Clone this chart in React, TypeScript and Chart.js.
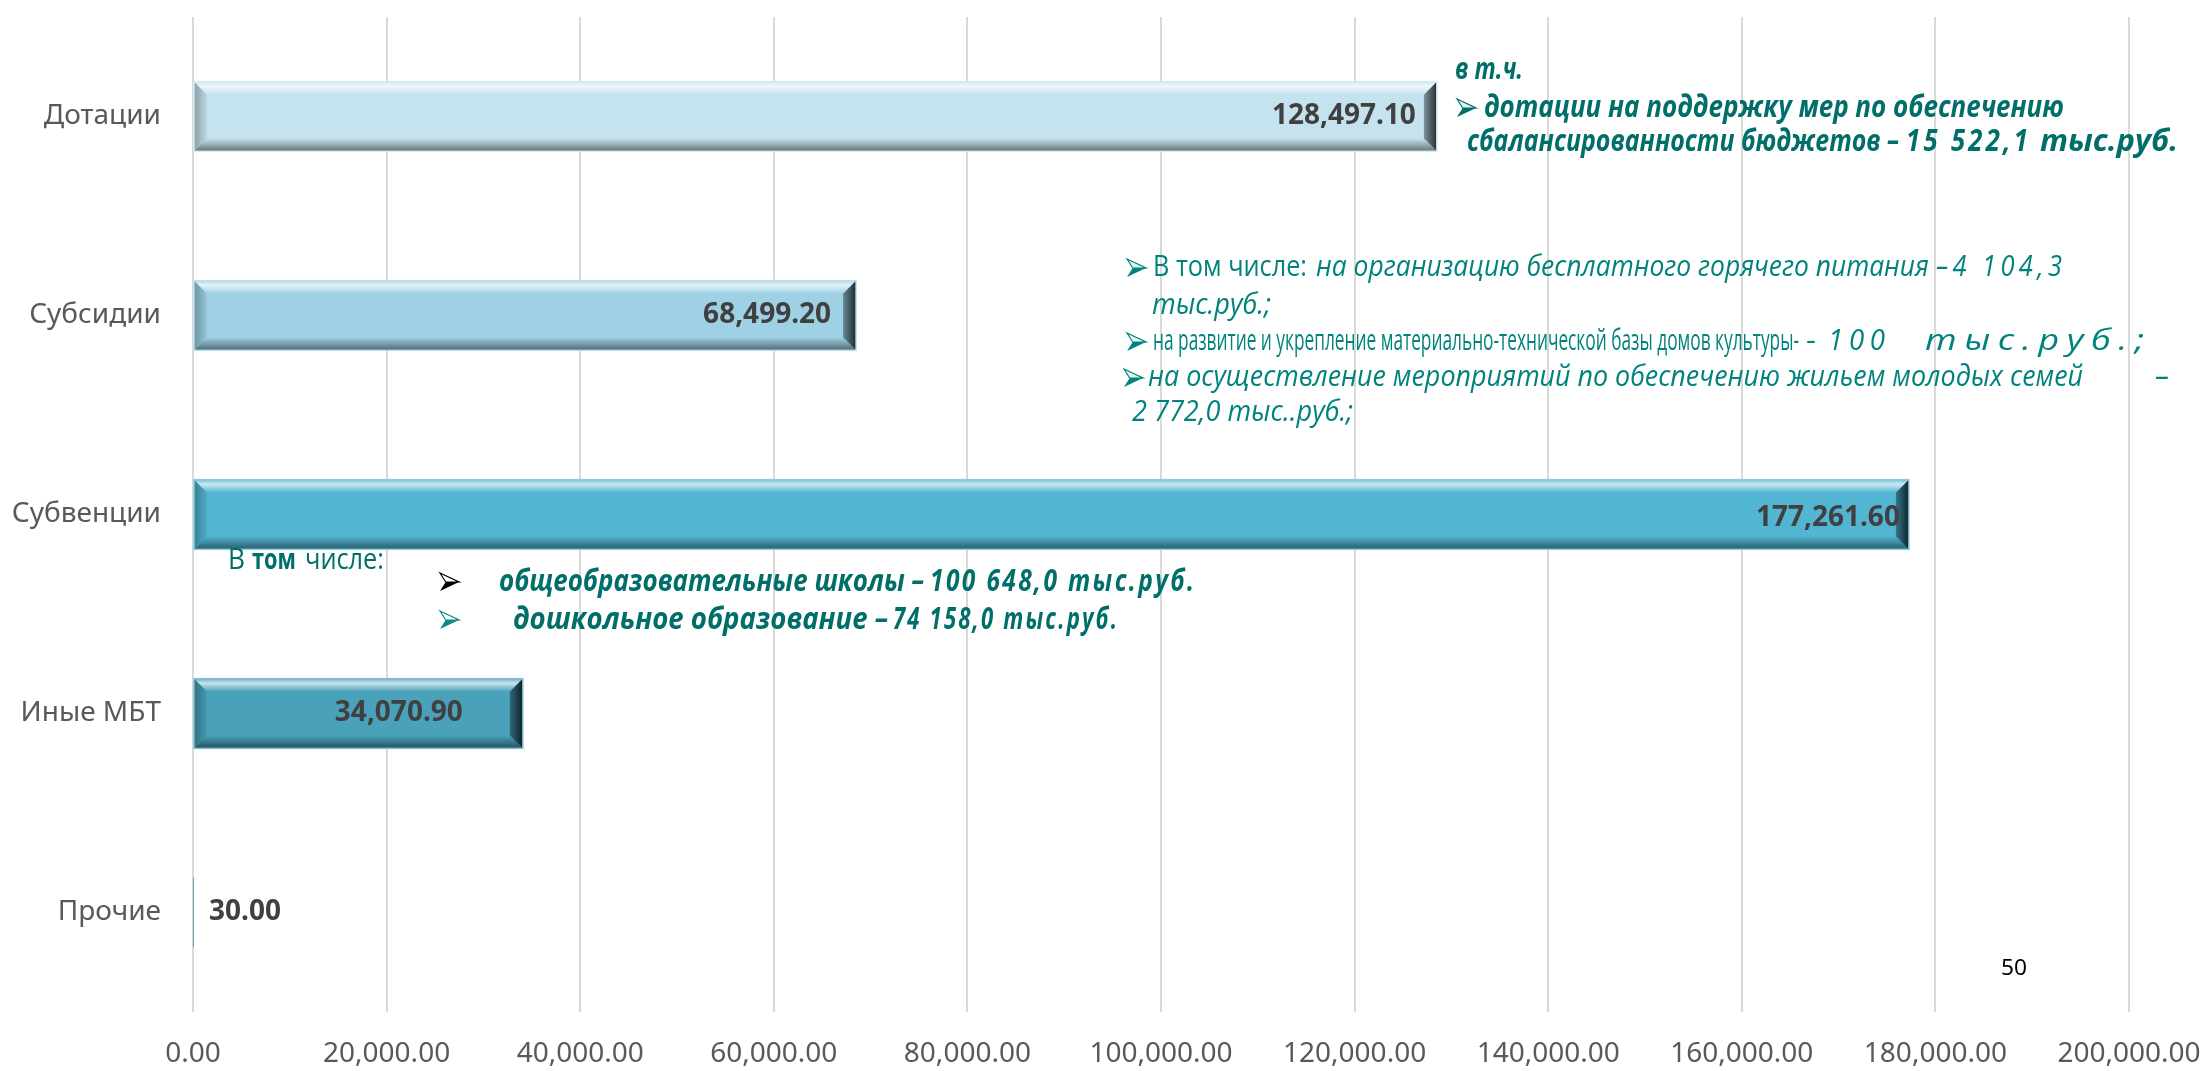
import React, { useEffect, useRef } from "react";
import { Chart, registerables } from "chart.js";

Chart.register(...registerables);

const categories = ["Дотации", "Субсидии", "Субвенции", "Иные МБТ", "Прочие"];
const values = [128497.1, 68499.2, 177261.6, 34070.9, 30.0];
const xMin = 0;
const xMax = 200000;
const xStep = 20000;

const barColors = ["#C5E3EE", "#9DD1E3", "#52B5D1", "#4AA2BA", "#3F91A8"];
const labelAlign = ["end", "end", "end", "end", "start"];
const labelOffset = [21, 25, 9, 60, 15];
const labelDy = [0, 0, 4, 0, 0];

const fmt = (v: number) =>
  v.toLocaleString("en-US", { minimumFractionDigits: 2, maximumFractionDigits: 2 });

function shade(hex: string, amt: number) {
  const n = parseInt(hex.slice(1), 16);
  let r = (n >> 16) & 255,
    g = (n >> 8) & 255,
    b = n & 255;
  if (amt >= 0) {
    r += (255 - r) * amt;
    g += (255 - g) * amt;
    b += (255 - b) * amt;
  } else {
    r *= 1 + amt;
    g *= 1 + amt;
    b *= 1 + amt;
  }
  return `rgb(${Math.round(r)},${Math.round(g)},${Math.round(b)})`;
}

function poly(ctx: CanvasRenderingContext2D, pts: number[][], fill: any) {
  ctx.beginPath();
  ctx.moveTo(pts[0][0], pts[0][1]);
  for (let i = 1; i < pts.length; i++) ctx.lineTo(pts[i][0], pts[i][1]);
  ctx.closePath();
  ctx.fillStyle = fill;
  ctx.fill();
}

const bevelPlugin = {
  id: "bevelBars",
  afterDatasetsDraw(chart: any) {
    const ctx: CanvasRenderingContext2D = chart.ctx;
    const meta = chart.getDatasetMeta(0);
    meta.data.forEach((bar: any, i: number) => {
      const { x, y, base, height } = bar.getProps(["x", "y", "base", "height"], true);
      const left = Math.min(base, x);
      const right = Math.max(base, x);
      const top = y - height / 2;
      const bottom = y + height / 2;
      const w = right - left;
      const c = barColors[i];
      if (w > 6) {
        const bv = Math.min(13, w / 2);
        ctx.save();
        // top bevel
        let g = ctx.createLinearGradient(0, top, 0, top + bv);
        g.addColorStop(0, shade(c, 0.2));
        g.addColorStop(0.35, shade(c, 0.7));
        g.addColorStop(1, c);
        poly(ctx, [[left, top], [right, top], [right - bv, top + bv], [left + bv, top + bv]], g);
        // bottom bevel
        g = ctx.createLinearGradient(0, bottom - bv, 0, bottom);
        g.addColorStop(0, c);
        g.addColorStop(1, shade(c, -0.5));
        poly(ctx, [[left, bottom], [right, bottom], [right - bv, bottom - bv], [left + bv, bottom - bv]], g);
        // left bevel
        g = ctx.createLinearGradient(left, 0, left + bv, 0);
        g.addColorStop(0, shade(c, -0.3));
        g.addColorStop(1, shade(c, -0.05));
        poly(ctx, [[left, top], [left + bv, top + bv], [left + bv, bottom - bv], [left, bottom]], g);
        // right bevel
        g = ctx.createLinearGradient(right - bv, 0, right, 0);
        g.addColorStop(0, shade(c, -0.35));
        g.addColorStop(1, shade(c, -0.8));
        poly(ctx, [[right, top], [right - bv, top + bv], [right - bv, bottom - bv], [right, bottom]], g);
        // outline
        ctx.strokeStyle = shade(c, 0.3);
        ctx.lineWidth = 1.5;
        ctx.strokeRect(left, top, w, height);
        ctx.restore();
      }
    });
    // data labels
    ctx.save();
    ctx.font = "bold 28px 'Noto Sans'";
    ctx.fillStyle = "#404040";
    ctx.textBaseline = "middle";
    meta.data.forEach((bar: any, i: number) => {
      const { x, y, base } = bar.getProps(["x", "y", "base"], true);
      const txt = fmt(values[i]);
      if (labelAlign[i] === "end") {
        ctx.textAlign = "right";
        ctx.fillText(txt, x - labelOffset[i], y + labelDy[i]);
      } else {
        ctx.textAlign = "left";
        ctx.fillText(txt, base + labelOffset[i], y + labelDy[i]);
      }
    });
    ctx.restore();
  },
};

type Run = { t: string; x: number; w?: number; font: string; color: string; ls?: number };

function drawRun(ctx: CanvasRenderingContext2D, r: Run, y: number) {
  ctx.save();
  ctx.font = r.font;
  ctx.fillStyle = r.color;
  ctx.textBaseline = "middle";
  ctx.textAlign = "left";
  (ctx as any).letterSpacing = (r.ls || 0) + "px";
  const m = ctx.measureText(r.t).width - (r.ls || 0);
  const s = r.w ? r.w / m : 1;
  ctx.translate(r.x, y);
  ctx.scale(s, 1);
  ctx.fillText(r.t, 0, 0);
  ctx.restore();
}

function drawArrow(ctx: CanvasRenderingContext2D, x: number, y: number, color: string, lightTop: string) {
  const w = 19;
  const h = 18;
  ctx.save();
  ctx.lineJoin = "miter";
  ctx.beginPath();
  ctx.moveTo(x, y - h / 2);
  ctx.lineTo(x + w, y);
  ctx.lineTo(x + w * 0.3, y);
  ctx.closePath();
  ctx.fillStyle = lightTop;
  ctx.fill();
  ctx.strokeStyle = color;
  ctx.lineWidth = 1.2;
  ctx.stroke();
  ctx.beginPath();
  ctx.moveTo(x + w * 0.3, y);
  ctx.lineTo(x + w, y);
  ctx.lineTo(x, y + h / 2);
  ctx.closePath();
  ctx.fillStyle = color;
  ctx.fill();
  ctx.restore();
}

const TEAL_B = "#006E69";
const TEAL_L = "#00837D";
const BI = "italic bold 31px 'Open Sans'";
const IT = "italic 29px 'Open Sans'";
const RG = "29px 'Open Sans'";

const annotationPlugin = {
  id: "annotations",
  afterDraw(chart: any) {
    const ctx: CanvasRenderingContext2D = chart.ctx;
    // Дотации note
    drawRun(ctx, { t: "в т.ч.", x: 1455, w: 68, font: BI, color: TEAL_B }, 70);
    drawArrow(ctx, 1457, 108, TEAL_B, "#E6F4F3");
    drawRun(ctx, { t: "дотации на поддержку мер по обеспечению", x: 1484, w: 580, font: BI, color: TEAL_B }, 108);
    drawRun(ctx, { t: "сбалансированности бюджетов –", x: 1467, w: 432, font: BI, color: TEAL_B }, 142);
    drawRun(ctx, { t: "15 522,1", x: 1906, w: 122, font: BI, color: TEAL_B, ls: 4 }, 142);
    drawRun(ctx, { t: "тыс.руб.", x: 2040, w: 138, font: BI, color: TEAL_B }, 142);

    // Субсидии note
    drawArrow(ctx, 1127, 268, TEAL_L, "#E6F4F3");
    drawRun(ctx, { t: "В том числе:", x: 1153, w: 154, font: RG, color: TEAL_L }, 268);
    drawRun(ctx, { t: "на организацию бесплатного горячего питания", x: 1316, w: 613, font: IT, color: TEAL_L }, 268);
    drawRun(ctx, { t: "–4 104,3", x: 1936, w: 126, font: IT, color: TEAL_L, ls: 5 }, 268);
    drawRun(ctx, { t: "тыс.руб.;", x: 1152, w: 119, font: IT, color: TEAL_L }, 306);
    drawArrow(ctx, 1127, 342, TEAL_L, "#E6F4F3");
    drawRun(ctx, { t: "на развитие и укрепление материально-технической базы домов культуры-", x: 1153, w: 646, font: RG, color: TEAL_L }, 342);
    drawRun(ctx, { t: "-", x: 1806, w: 10, font: RG, color: TEAL_L }, 342);
    drawRun(ctx, { t: "100", x: 1828, w: 57, font: IT, color: TEAL_L, ls: 6 }, 342);
    drawRun(ctx, { t: "тыс.руб.;", x: 1925, w: 219, font: IT, color: TEAL_L, ls: 6 }, 342);
    drawArrow(ctx, 1124, 378, TEAL_L, "#E6F4F3");
    drawRun(ctx, { t: "на осуществление мероприятий по обеспечению жильем молодых семей", x: 1148, w: 935, font: IT, color: TEAL_L }, 378);
    drawRun(ctx, { t: "–", x: 2155, w: 14, font: IT, color: TEAL_L }, 378);
    drawRun(ctx, { t: "2 772,0 тыс..руб.;", x: 1132, w: 221, font: IT, color: TEAL_L }, 413);

    // Субвенции note
    drawRun(ctx, { t: "В", x: 228, w: 17, font: RG, color: TEAL_B }, 561);
    drawRun(ctx, { t: "том", x: 252, w: 44, font: "bold 29px 'Open Sans'", color: TEAL_B }, 561);
    drawRun(ctx, { t: "числе:", x: 305, w: 79, font: RG, color: TEAL_B }, 561);
    drawArrow(ctx, 440, 582, "#000000", "#FFFFFF");
    drawRun(ctx, { t: "общеобразовательные школы –", x: 499, w: 425, font: BI, color: TEAL_B }, 582);
    drawRun(ctx, { t: "100 648,0 тыс.руб.", x: 930, w: 264, font: BI, color: TEAL_B, ls: 3 }, 582);
    drawArrow(ctx, 440, 620, "#0E8A84", "#FFFFFF");
    drawRun(ctx, { t: "дошкольное образование –", x: 513, w: 375, font: BI, color: TEAL_B }, 620);
    drawRun(ctx, { t: "74 158,0 тыс.руб.", x: 893, w: 224, font: BI, color: TEAL_B, ls: 3 }, 620);

    // page number
    drawRun(ctx, { t: "50", x: 2001, w: 26, font: "22px 'Noto Sans'", color: "#000000" }, 969);
  },
};

const zeroPad = (scale: any) => {
  scale.paddingTop = 0;
  scale.paddingBottom = 0;
  scale.paddingLeft = 0;
  scale.paddingRight = 0;
};

export default function App() {
  const ref = useRef<HTMLCanvasElement>(null);
  useEffect(() => {
    document.body.style.margin = "0";
    const chart = new Chart(ref.current as HTMLCanvasElement, {
      type: "bar",
      data: {
        labels: categories,
        datasets: [
          {
            data: values,
            backgroundColor: barColors,
            borderWidth: 0,
            barPercentage: 0.35,
            categoryPercentage: 1,
          },
        ],
      },
      options: {
        indexAxis: "y",
        responsive: false,
        animation: false,
        devicePixelRatio: 1,
        layout: { padding: { left: 0, right: 80, top: 17, bottom: 0 } },
        plugins: { legend: { display: false }, tooltip: { enabled: false }, title: { display: false } },
        scales: {
          x: {
            type: "linear",
            min: xMin,
            max: xMax,
            ticks: {
              stepSize: xStep,
              callback: (v: any) => fmt(Number(v)),
              font: { family: "'Noto Sans'", size: 28 },
              color: "#595959",
              padding: 25,
              maxRotation: 0,
            },
            grid: { color: "#D9D9D9", lineWidth: 2, drawTicks: false },
            border: { display: false },
            afterFit: (scale: any) => {
              scale.height = 59;
              zeroPad(scale);
            },
          },
          y: {
            ticks: {
              font: { family: "'Noto Sans'", size: 28 },
              color: "#595959",
              padding: 32,
            },
            grid: { display: false, drawTicks: false },
            border: { display: false },
            afterFit: (scale: any) => {
              scale.width = 193;
              zeroPad(scale);
            },
          },
        },
      } as any,
      plugins: [bevelPlugin, annotationPlugin],
    });
    return () => chart.destroy();
  }, []);
  return (
    <div style={{ width: 2209, height: 1071 }}>
      <canvas ref={ref} width={2209} height={1071} style={{ display: "block" }} />
    </div>
  );
}
